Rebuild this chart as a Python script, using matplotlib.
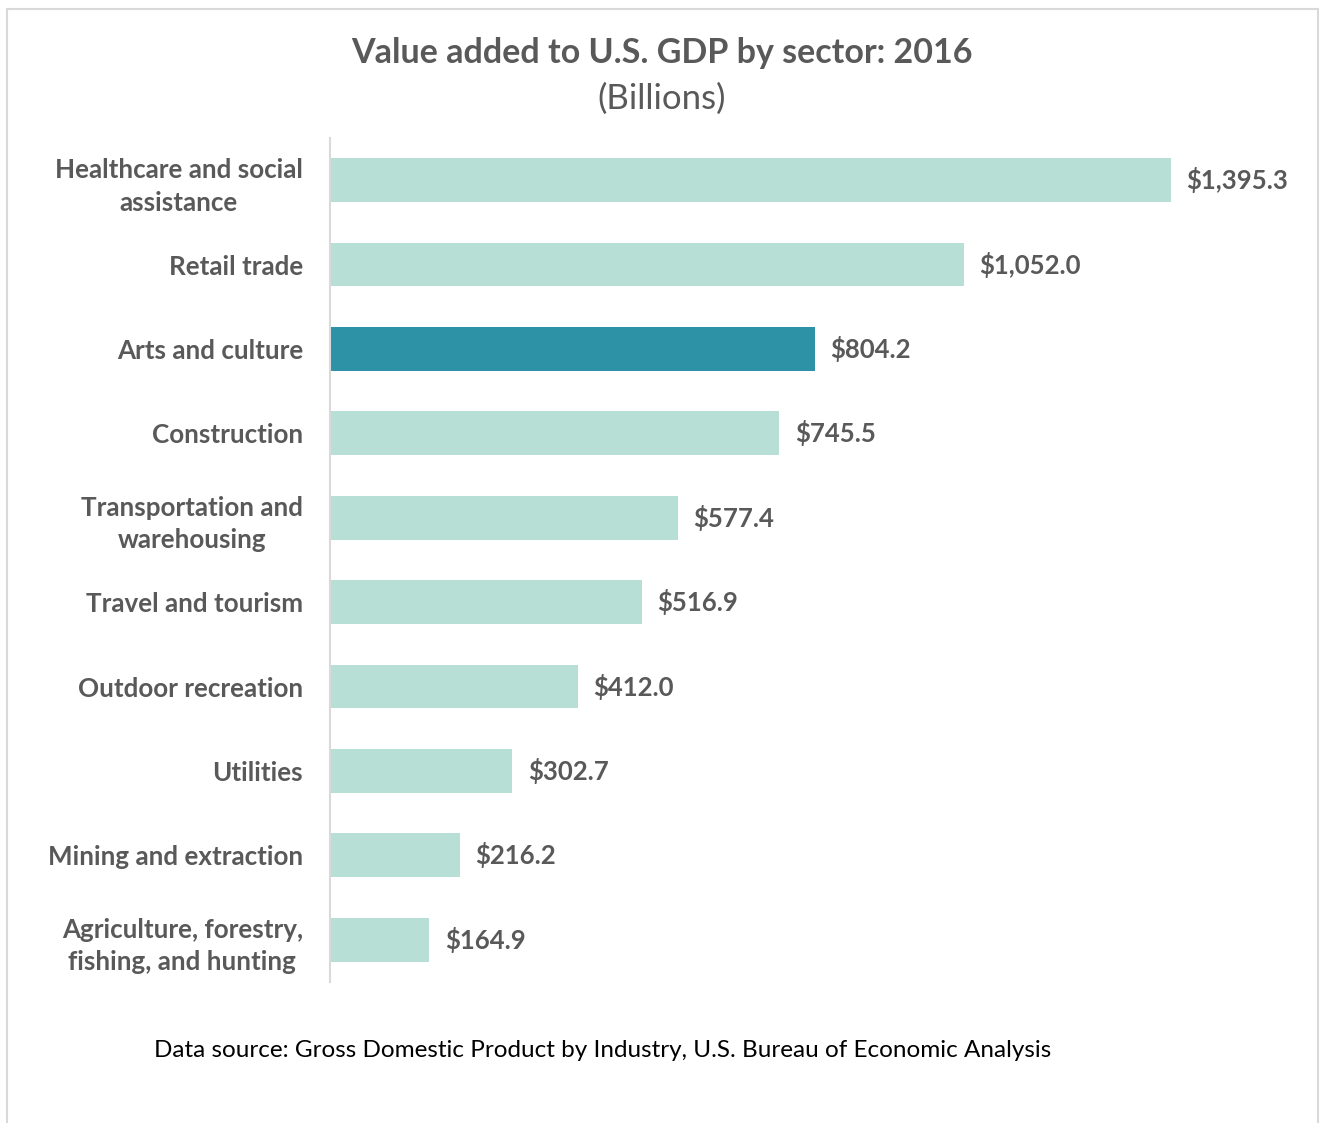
import matplotlib.pyplot as plt
from matplotlib.patches import Rectangle

# Datos del grafico
sectores = [
    'Healthcare and social\nassistance',
    'Retail trade',
    'Arts and culture',
    'Construction',
    'Transportation and\nwarehousing',
    'Travel and tourism',
    'Outdoor recreation',
    'Utilities',
    'Mining and extraction',
    'Agriculture, forestry,\nfishing, and hunting',
]
valores = [1395.3, 1052.0, 804.2, 745.5, 577.4, 516.9, 412.0, 302.7, 216.2, 164.9]
destacado = 'Arts and culture'

gris = '#595959'
claro = '#b8dfd6'
oscuro = '#2e92a6'

plt.rcParams['font.family'] = ['Lato', 'DejaVu Sans']

fig = plt.figure(figsize=(13.21, 11.23), dpi=100)
ax = fig.add_axes([0.2498, 0.1256, 0.6389, 0.7516])

colores = [oscuro if s == destacado else claro for s in sectores]
pos = list(range(len(sectores)))
ax.barh(pos, valores, height=0.52, color=colores)
ax.set_xlim(0, 1400)
ax.set_ylim(9.5, -0.5)

ax.set_yticks(pos)
ax.set_yticklabels(sectores, fontsize=18.7, fontweight='bold', color=gris,
                   multialignment='center', linespacing=1.42)
ax.tick_params(axis='y', length=0, pad=19.5)
ax.set_xticks([])
for lado in ['top', 'right', 'bottom']:
    ax.spines[lado].set_visible(False)
ax.spines['left'].set_color('#d9d9d9')
ax.spines['left'].set_linewidth(1.5)

for y, v in zip(pos, valores):
    ax.annotate(f'${v:,.1f}', (v, y), xytext=(11, 0), textcoords='offset points',
                va='center', ha='left', fontsize=18.5, fontweight='bold', color=gris)

fig.text(0.501, 0.953, 'Value added to U.S. GDP by sector: 2016', ha='center', va='center',
         fontsize=24.5, fontweight='bold', color=gris)
fig.text(0.501, 0.912, '(Billions)', ha='center', va='center', fontsize=25, color=gris)
fig.text(0.456, 0.065, 'Data source: Gross Domestic Product by Industry, U.S. Bureau of Economic Analysis',
         ha='center', va='center', fontsize=17.5, color='black')

fig.patches.append(Rectangle((7 / 1321, -0.01), 1311 / 1321, 1 - 9 / 1123 + 0.01,
                             transform=fig.transFigure, fill=False,
                             edgecolor='#d9d9d9', linewidth=1.5))

fig.savefig('out.png', dpi=100)
